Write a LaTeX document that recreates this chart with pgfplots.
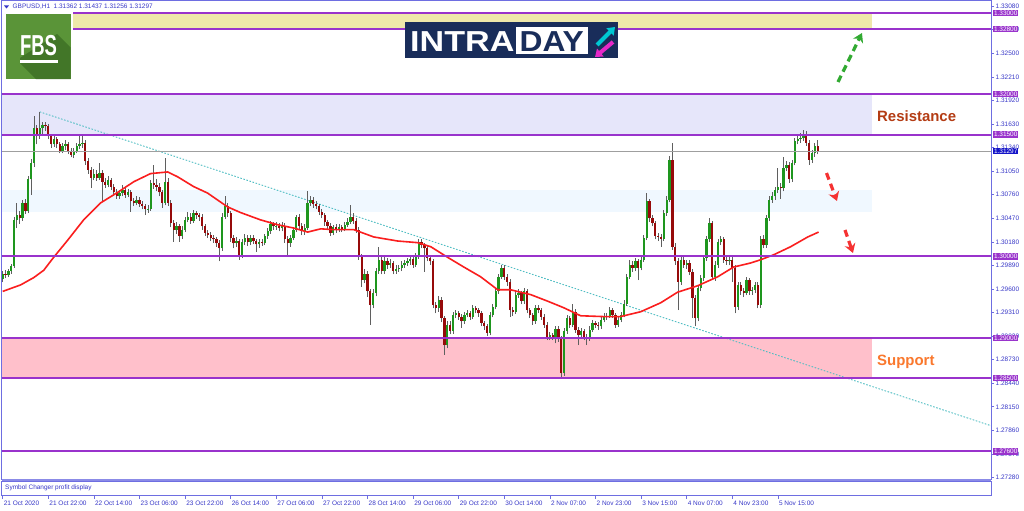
\documentclass[border=0pt]{standalone}
\usepackage{pgfplots}
\pgfplotsset{compat=1.18}
\usepackage{pgfplotstable}
\usepackage{fontspec}
\setmainfont{Liberation Sans}
\usetikzlibrary{arrows.meta}

\definecolor{mtblue}{RGB}{55,55,200}
\definecolor{frameblue}{RGB}{110,110,225}
\definecolor{lvl}{RGB}{153,51,204}
\definecolor{pxbox}{RGB}{20,20,200}
\definecolor{bull}{RGB}{30,150,30}
\definecolor{bear}{RGB}{150,10,10}
\definecolor{wick}{RGB}{95,95,95}
\definecolor{maline}{RGB}{250,30,30}
\definecolor{trend}{RGB}{80,190,195}
\definecolor{zyellow}{RGB}{238,232,170}
\definecolor{zlav}{RGB}{230,230,250}
\definecolor{zice}{RGB}{240,248,255}
\definecolor{zpink}{RGB}{255,192,203}
\definecolor{fbsgreen}{RGB}{90,148,56}
\definecolor{fbsdark}{RGB}{66,118,40}
\definecolor{navy}{RGB}{25,45,90}
\definecolor{icyan}{RGB}{0,200,210}
\definecolor{imag}{RGB}{230,40,200}
\definecolor{resist}{RGB}{180,60,20}
\definecolor{supp}{RGB}{250,120,45}
\definecolor{arrgreen}{RGB}{50,170,50}
\definecolor{arrred}{RGB}{245,50,50}

\newcommand\tf{\fontsize{6.5}{7}\selectfont}

% GBPUSD H1 candles, bar index from 21 Oct 2020
\pgfplotstableread{
i o h l c
0 1.2972 1.2982 1.2968 1.2979
1 1.2979 1.2983 1.2973 1.2977
2 1.2977 1.2985 1.2975 1.2982
3 1.2982 1.2991 1.2979 1.2988
4 1.2988 1.3049 1.2986 1.3045
5 1.3045 1.3066 1.3035 1.3051
6 1.3051 1.3056 1.3040 1.3047
7 1.3047 1.3070 1.3044 1.3066
8 1.3066 1.3071 1.3052 1.3056
9 1.3056 1.3099 1.3053 1.3095
10 1.3095 1.3120 1.3076 1.3115
11 1.3115 1.3173 1.3110 1.3158
12 1.3158 1.3162 1.3138 1.3148
13 1.3148 1.3178 1.3145 1.3158
14 1.3158 1.3166 1.3150 1.3162
15 1.3162 1.3166 1.3155 1.3160
16 1.3160 1.3163 1.3144 1.3148
17 1.3148 1.3151 1.3134 1.3138
18 1.3138 1.3150 1.3135 1.3144
19 1.3144 1.3147 1.3133 1.3138
20 1.3138 1.3141 1.3127 1.3130
21 1.3130 1.3140 1.3127 1.3136
22 1.3136 1.3143 1.3131 1.3138
23 1.3138 1.3141 1.3126 1.3130
24 1.3130 1.3133 1.3122 1.3125
25 1.3125 1.3134 1.3121 1.3130
26 1.3130 1.3140 1.3127 1.3136
27 1.3136 1.3151 1.3132 1.3138
28 1.3138 1.3151 1.3134 1.3140
29 1.3140 1.3143 1.3113 1.3117
30 1.3117 1.3121 1.3102 1.3107
31 1.3107 1.3110 1.3084 1.3097
32 1.3097 1.3108 1.3094 1.3102
33 1.3102 1.3106 1.3093 1.3097
34 1.3097 1.3115 1.3094 1.3103
35 1.3103 1.3106 1.3068 1.3092
36 1.3092 1.3097 1.3084 1.3088
37 1.3088 1.3099 1.3085 1.3094
38 1.3094 1.3097 1.3082 1.3086
39 1.3086 1.3089 1.3075 1.3079
40 1.3079 1.3083 1.3071 1.3075
41 1.3075 1.3082 1.3071 1.3078
42 1.3078 1.3088 1.3074 1.3082
43 1.3082 1.3085 1.3072 1.3076
44 1.3076 1.3083 1.3073 1.3079
45 1.3079 1.3082 1.3055 1.3068
46 1.3068 1.3072 1.3062 1.3066
47 1.3066 1.3074 1.3063 1.3070
48 1.3070 1.3073 1.3061 1.3065
49 1.3065 1.3068 1.3058 1.3062
50 1.3062 1.3065 1.3051 1.3058
51 1.3058 1.3063 1.3054 1.3059
52 1.3059 1.3094 1.3056 1.3090
53 1.3090 1.3113 1.3083 1.3088
54 1.3088 1.3095 1.3080 1.3086
55 1.3086 1.3090 1.3074 1.3079
56 1.3079 1.3082 1.3060 1.3066
57 1.3066 1.3121 1.3063 1.3092
58 1.3092 1.3096 1.3062 1.3066
59 1.3066 1.3069 1.3036 1.3041
60 1.3041 1.3045 1.3018 1.3033
61 1.3033 1.3042 1.3028 1.3037
62 1.3037 1.3040 1.3018 1.3025
63 1.3025 1.3037 1.3022 1.3033
64 1.3033 1.3049 1.3030 1.3045
65 1.3045 1.3055 1.3042 1.3049
66 1.3049 1.3053 1.3040 1.3044
67 1.3044 1.3057 1.3041 1.3053
68 1.3053 1.3056 1.3046 1.3051
69 1.3051 1.3054 1.3044 1.3049
70 1.3049 1.3052 1.3033 1.3037
71 1.3037 1.3040 1.3025 1.3029
72 1.3029 1.3033 1.3023 1.3027
73 1.3027 1.3030 1.3019 1.3023
74 1.3023 1.3027 1.3017 1.3021
75 1.3021 1.3024 1.3012 1.3016
76 1.3016 1.3020 1.2994 1.3010
77 1.3010 1.3053 1.3007 1.3049
78 1.3049 1.3075 1.3046 1.3062
79 1.3062 1.3066 1.3049 1.3053
80 1.3053 1.3056 1.3018 1.3023
81 1.3023 1.3027 1.3010 1.3016
82 1.3016 1.3024 1.3012 1.3019
83 1.3019 1.3022 1.2996 1.3001
84 1.3001 1.3022 1.2998 1.3018
85 1.3018 1.3028 1.3014 1.3023
86 1.3023 1.3027 1.3013 1.3018
87 1.3018 1.3027 1.3014 1.3023
88 1.3023 1.3026 1.3015 1.3019
89 1.3019 1.3022 1.3006 1.3015
90 1.3015 1.3021 1.3011 1.3018
91 1.3018 1.3022 1.3013 1.3017
92 1.3017 1.3028 1.3014 1.3025
93 1.3025 1.3035 1.3022 1.3031
94 1.3031 1.3044 1.3028 1.3040
95 1.3040 1.3043 1.3033 1.3037
96 1.3037 1.3042 1.3033 1.3038
97 1.3038 1.3041 1.3031 1.3035
98 1.3035 1.3042 1.3031 1.3038
99 1.3038 1.3041 1.3017 1.3021
100 1.3021 1.3025 1.3002 1.3016
101 1.3016 1.3027 1.3012 1.3023
102 1.3023 1.3036 1.3020 1.3033
103 1.3033 1.3051 1.3030 1.3049
104 1.3049 1.3052 1.3032 1.3037
105 1.3037 1.3041 1.3026 1.3031
106 1.3031 1.3040 1.3027 1.3035
107 1.3035 1.3080 1.3032 1.3066
108 1.3066 1.3075 1.3062 1.3070
109 1.3070 1.3073 1.3060 1.3064
110 1.3064 1.3068 1.3058 1.3062
111 1.3062 1.3065 1.3051 1.3055
112 1.3055 1.3058 1.3047 1.3051
113 1.3051 1.3054 1.3038 1.3042
114 1.3042 1.3045 1.3033 1.3038
115 1.3038 1.3041 1.3025 1.3029
116 1.3029 1.3039 1.3026 1.3036
117 1.3036 1.3040 1.3029 1.3033
118 1.3033 1.3040 1.3030 1.3036
119 1.3036 1.3039 1.3030 1.3034
120 1.3034 1.3043 1.3031 1.3039
121 1.3039 1.3047 1.3036 1.3043
122 1.3043 1.3063 1.3040 1.3049
123 1.3049 1.3053 1.3040 1.3044
124 1.3044 1.3047 1.3029 1.3033
125 1.3033 1.3036 1.2996 1.3000
126 1.3000 1.3003 1.2963 1.2971
127 1.2971 1.2985 1.2967 1.2979
128 1.2979 1.2982 1.2950 1.2957
129 1.2957 1.2960 1.2916 1.2940
130 1.2940 1.2960 1.2936 1.2955
131 1.2955 1.2986 1.2951 1.2982
132 1.2982 1.3012 1.2979 1.2996
133 1.2996 1.2999 1.2978 1.2982
134 1.2982 1.2999 1.2979 1.2995
135 1.2995 1.2998 1.2985 1.2990
136 1.2990 1.2997 1.2986 1.2992
137 1.2992 1.2995 1.2978 1.2982
138 1.2982 1.2989 1.2979 1.2985
139 1.2985 1.2990 1.2981 1.2986
140 1.2986 1.2994 1.2982 1.2990
141 1.2990 1.2996 1.2986 1.2992
142 1.2992 1.2998 1.2988 1.2994
143 1.2994 1.3001 1.2990 1.2997
144 1.2997 1.3000 1.2986 1.2990
145 1.2990 1.3004 1.2987 1.3000
146 1.3000 1.3022 1.2997 1.3018
147 1.3018 1.3021 1.3010 1.3014
148 1.3014 1.3017 1.2981 1.3010
149 1.3010 1.3013 1.2994 1.2998
150 1.2998 1.3002 1.2990 1.2994
151 1.2994 1.2997 1.2936 1.2940
152 1.2940 1.2944 1.2930 1.2936
153 1.2936 1.2951 1.2932 1.2947
154 1.2947 1.2950 1.2919 1.2924
155 1.2924 1.2927 1.2879 1.2891
156 1.2891 1.2920 1.2887 1.2916
157 1.2916 1.2921 1.2904 1.2908
158 1.2908 1.2932 1.2905 1.2928
159 1.2928 1.2934 1.2924 1.2930
160 1.2930 1.2933 1.2922 1.2926
161 1.2926 1.2929 1.2912 1.2920
162 1.2920 1.2932 1.2917 1.2928
163 1.2928 1.2934 1.2925 1.2930
164 1.2930 1.2933 1.2922 1.2926
165 1.2926 1.2940 1.2923 1.2936
166 1.2936 1.2939 1.2930 1.2934
167 1.2934 1.2937 1.2926 1.2930
168 1.2930 1.2933 1.2914 1.2918
169 1.2918 1.2921 1.2910 1.2914
170 1.2914 1.2917 1.2902 1.2906
171 1.2906 1.2932 1.2903 1.2928
172 1.2928 1.2942 1.2925 1.2938
173 1.2938 1.2961 1.2935 1.2957
174 1.2957 1.2979 1.2954 1.2975
175 1.2975 1.2990 1.2972 1.2986
176 1.2986 1.2989 1.2971 1.2975
177 1.2975 1.2979 1.2964 1.2969
178 1.2969 1.2972 1.2926 1.2934
179 1.2934 1.2938 1.2927 1.2932
180 1.2932 1.2957 1.2929 1.2953
181 1.2953 1.2960 1.2949 1.2955
182 1.2955 1.2958 1.2941 1.2945
183 1.2945 1.2961 1.2942 1.2957
184 1.2957 1.2960 1.2930 1.2934
185 1.2934 1.2937 1.2924 1.2928
186 1.2928 1.2931 1.2916 1.2920
187 1.2920 1.2940 1.2917 1.2936
188 1.2936 1.2940 1.2930 1.2934
189 1.2934 1.2937 1.2922 1.2926
190 1.2926 1.2929 1.2912 1.2916
191 1.2916 1.2919 1.2897 1.2901
192 1.2901 1.2907 1.2897 1.2903
193 1.2903 1.2906 1.2897 1.2901
194 1.2901 1.2915 1.2893 1.2911
195 1.2911 1.2914 1.2895 1.2899
196 1.2899 1.2902 1.2852 1.2856
197 1.2856 1.2912 1.2853 1.2908
198 1.2908 1.2928 1.2905 1.2924
199 1.2924 1.2927 1.2912 1.2916
200 1.2916 1.2942 1.2913 1.2932
201 1.2932 1.2935 1.2906 1.2910
202 1.2910 1.2913 1.2891 1.2903
203 1.2903 1.2912 1.2899 1.2908
204 1.2908 1.2911 1.2897 1.2901
205 1.2901 1.2905 1.2891 1.2899
206 1.2899 1.2914 1.2896 1.2910
207 1.2910 1.2922 1.2907 1.2918
208 1.2918 1.2921 1.2912 1.2916
209 1.2916 1.2919 1.2910 1.2914
210 1.2914 1.2926 1.2911 1.2922
211 1.2922 1.2930 1.2919 1.2926
212 1.2926 1.2931 1.2922 1.2927
213 1.2927 1.2938 1.2924 1.2934
214 1.2934 1.2937 1.2924 1.2928
215 1.2928 1.2931 1.2912 1.2916
216 1.2916 1.2926 1.2913 1.2922
217 1.2922 1.2932 1.2919 1.2928
218 1.2928 1.2946 1.2925 1.2942
219 1.2942 1.2979 1.2939 1.2975
220 1.2975 1.2996 1.2972 1.2990
221 1.2990 1.2994 1.2981 1.2986
222 1.2986 1.2998 1.2982 1.2994
223 1.2994 1.2997 1.2971 1.2986
224 1.2986 1.3000 1.2983 1.2996
225 1.2996 1.3027 1.2993 1.3023
226 1.3023 1.3078 1.3020 1.3068
227 1.3068 1.3071 1.3043 1.3047
228 1.3047 1.3051 1.3037 1.3041
229 1.3041 1.3044 1.3021 1.3025
230 1.3025 1.3029 1.3019 1.3024
231 1.3024 1.3028 1.3012 1.3022
232 1.3022 1.3057 1.3019 1.3053
233 1.3053 1.3074 1.3050 1.3070
234 1.3070 1.3124 1.3067 1.3119
235 1.3119 1.3140 1.3008 1.3012
236 1.3012 1.3016 1.2990 1.2994
237 1.2994 1.2998 1.2934 1.2969
238 1.2969 1.3000 1.2965 1.2996
239 1.2996 1.3000 1.2986 1.2990
240 1.2990 1.2996 1.2985 1.2992
241 1.2992 1.2996 1.2977 1.2981
242 1.2981 1.2984 1.2924 1.2949
243 1.2949 1.2952 1.2914 1.2924
244 1.2924 1.2965 1.2920 1.2961
245 1.2961 1.2977 1.2957 1.2973
246 1.2973 1.3002 1.2970 1.2998
247 1.2998 1.3025 1.2995 1.3021
248 1.3021 1.3047 1.3018 1.3041
249 1.3041 1.3044 1.2971 1.2975
250 1.2975 1.2994 1.2970 1.2990
251 1.2990 1.3022 1.2986 1.3018
252 1.3018 1.3025 1.3014 1.3021
253 1.3021 1.3024 1.2992 1.2996
254 1.2996 1.3000 1.2990 1.2994
255 1.2994 1.3001 1.2989 1.2996
256 1.2996 1.3000 1.2969 1.2986
257 1.2986 1.2990 1.2930 1.2938
258 1.2938 1.2969 1.2934 1.2965
259 1.2965 1.2968 1.2953 1.2957
260 1.2957 1.2961 1.2950 1.2955
261 1.2955 1.2975 1.2952 1.2971
262 1.2971 1.2974 1.2953 1.2957
263 1.2957 1.2963 1.2953 1.2959
264 1.2959 1.2969 1.2955 1.2965
265 1.2965 1.2968 1.2936 1.2940
266 1.2940 1.3025 1.2937 1.3021
267 1.3021 1.3027 1.3010 1.3014
268 1.3014 1.3051 1.3011 1.3047
269 1.3047 1.3074 1.3044 1.3070
270 1.3070 1.3079 1.3066 1.3074
271 1.3074 1.3086 1.3070 1.3082
272 1.3082 1.3109 1.3078 1.3086
273 1.3086 1.3090 1.3071 1.3084
274 1.3084 1.3123 1.3080 1.3109
275 1.3109 1.3118 1.3105 1.3113
276 1.3113 1.3116 1.3091 1.3095
277 1.3095 1.3119 1.3092 1.3115
278 1.3115 1.3146 1.3112 1.3142
279 1.3142 1.3149 1.3138 1.3144
280 1.3144 1.3152 1.3140 1.3146
281 1.3146 1.3156 1.3142 1.3148
282 1.3148 1.3155 1.3136 1.3140
283 1.3140 1.3143 1.3113 1.3119
284 1.3119 1.3131 1.3115 1.3127
285 1.3127 1.3140 1.3123 1.31362
286 1.31362 1.31437 1.31256 1.31297
}\candles

% moving average
\pgfplotstableread{
i ma
0 1.2957
6.3 1.2965
10.9 1.2974
14.4 1.2983
17.9 1.2999
22.8 1.3020
28.4 1.3045
34.4 1.3066
40.4 1.3079
46 1.3092
51.9 1.3102
57.9 1.3104
61.4 1.3098
67 1.3086
71.9 1.3078
78.9 1.3061
83.5 1.3054
90.5 1.3045
96.5 1.3039
102.1 1.3035
107 1.3030
111.6 1.3034
116.1 1.3033
123.2 1.3033
130.2 1.3024
138.6 1.3019
145.6 1.3017
150.2 1.3012
156.1 1.2999
161.8 1.2987
167.7 1.2975
173.7 1.2959
178.2 1.2959
185.3 1.2953
191.2 1.2945
196.8 1.2937
202.8 1.2927
210.9 1.2926
216.8 1.2926
223.9 1.2932
230.9 1.2943
236.8 1.2956
243.9 1.2964
250.9 1.2975
256.5 1.2987
262.5 1.2992
266 1.2996
270.5 1.3002
276.5 1.3012
282.5 1.3024
286.3 1.3030
}\matable

\begin{document}
\begin{tikzpicture}
\path[use as bounding box] (0,0) rectangle (1024bp,-511bp);
\fill[white] (0,0) rectangle (1024bp,-511bp);

\begin{axis}[
  name=main, scale only axis, width=989.5bp, height=478bp,
  anchor=north west, at={(1.5bp,-1bp)},
  xmin=-0.42, xmax=346.8, ymin=1.27261, ymax=1.33144,
  xtick=\empty,
  ytick pos=right, yticklabel pos=right,
  ytick={1.2728,1.2757,1.2786,1.2815,1.2844,1.2873,1.2902,1.2931,1.2960,1.2989,1.3018,1.3047,1.3076,1.3105,1.3134,1.3163,1.3192,1.3221,1.3250,1.3279,1.3308},
  yticklabels={1.27280,1.27570,1.27860,1.28150,1.28440,1.28730,1.29020,1.29310,1.29600,1.29890,1.30180,1.30470,1.30760,1.31050,1.31340,1.31630,1.31920,1.32210,1.32500,1.32790,1.33080},
  tick align=outside, major tick length=3bp,
  tick style={draw=frameblue, line width=0.6bp},
  axis line style={draw=frameblue, line width=1bp},
  yticklabel style={font=\tf, text=mtblue, anchor=west, inner sep=0pt, xshift=1.5bp},
]
% zones
\addplot[draw=none, fill=zyellow] coordinates {(24.7,1.328) (305,1.328) (305,1.330) (24.7,1.330)};
\addplot[draw=none, fill=zlav] coordinates {(-0.42,1.315) (305,1.315) (305,1.320) (-0.42,1.320)};
\addplot[draw=none, fill=zice] coordinates {(-0.42,1.3055) (305,1.3055) (305,1.3082) (-0.42,1.3082)};
\addplot[draw=none, fill=zpink] coordinates {(-0.42,1.285) (305,1.285) (305,1.290) (-0.42,1.290)};
% trend line
\addplot[trend, line width=0.9bp, dash pattern=on 1.6bp off 1.6bp] coordinates {(13,1.3178) (346.8,1.27917)};
% wicks
\addplot[draw=none, mark=none, error bars/.cd, y dir=plus, y explicit,
  error bar style={draw=wick, line width=0.9bp}, error mark=none]
  table[x=i, y=l, y error plus expr=\thisrow{h}-\thisrow{l}] \candles;
% bull bodies
\addplot[draw=none, mark=none, restrict expr to domain={\thisrow{c}-\thisrow{o}}{0:1},
  error bars/.cd, y dir=plus, y explicit,
  error bar style={draw=bull, line width=2.3bp}, error mark=none]
  table[x=i, y=o, y error plus expr=\thisrow{c}-\thisrow{o}] \candles;
% bear bodies
\addplot[draw=none, mark=none, restrict expr to domain={\thisrow{c}-\thisrow{o}}{-1:0},
  error bars/.cd, y dir=plus, y explicit,
  error bar style={draw=bear, line width=2.3bp}, error mark=none]
  table[x=i, y=c, y error plus expr=\thisrow{o}-\thisrow{c}] \candles;
% moving average
\addplot[maline, line width=1.6bp] table[x=i, y=ma] \matable;
% level lines
\addplot[lvl, line width=2bp] coordinates {(24.7,1.330) (346.8,1.330)};
\addplot[lvl, line width=2bp] coordinates {(24.7,1.328) (346.8,1.328)};
\addplot[lvl, line width=2bp] coordinates {(-0.42,1.320) (346.8,1.320)};
\addplot[lvl, line width=2bp] coordinates {(-0.42,1.315) (346.8,1.315)};
\addplot[lvl, line width=2bp] coordinates {(-0.42,1.300) (346.8,1.300)};
\addplot[lvl, line width=2bp] coordinates {(-0.42,1.290) (346.8,1.290)};
\addplot[lvl, line width=2bp] coordinates {(-0.42,1.285) (346.8,1.285)};
\addplot[lvl, line width=2bp] coordinates {(-0.42,1.276) (346.8,1.276)};
\addplot[gray!75, line width=0.8bp] coordinates {(-0.42,1.31297) (346.8,1.31297)};
\coordinate (r1) at (axis cs:346.8,1.330);
\coordinate (r2) at (axis cs:346.8,1.328);
\coordinate (r3) at (axis cs:346.8,1.320);
\coordinate (r4) at (axis cs:346.8,1.315);
\coordinate (r5) at (axis cs:346.8,1.31297);
\coordinate (r6) at (axis cs:346.8,1.300);
\coordinate (r7) at (axis cs:346.8,1.290);
\coordinate (r8) at (axis cs:346.8,1.285);
\coordinate (r9) at (axis cs:346.8,1.276);
\end{axis}

% separator and sub window with the time scale
\fill[frameblue!80] (1.5bp,-478.5bp) rectangle (991bp,-481bp);
\begin{axis}[
  scale only axis, width=989.5bp, height=14bp,
  anchor=north west, at={(1.5bp,-481bp)},
  xmin=-0.42, xmax=346.8, ymin=0, ymax=1, ytick=\empty,
  xtick={0,16,...,272},
  xticklabels={{21 Oct 2020},{21 Oct 22:00},{22 Oct 14:00},{23 Oct 06:00},{23 Oct 22:00},{26 Oct 14:00},{27 Oct 06:00},{27 Oct 22:00},{28 Oct 14:00},{29 Oct 06:00},{29 Oct 22:00},{30 Oct 14:00},{2 Nov 07:00},{2 Nov 23:00},{3 Nov 15:00},{4 Nov 07:00},{4 Nov 23:00},{5 Nov 15:00}},
  xtick pos=bottom, tick align=outside, major tick length=3.5bp,
  tick style={draw=frameblue, line width=0.6bp},
  axis line style={draw=frameblue, line width=1bp},
  xticklabel style={font=\tf, text=mtblue, anchor=north west, inner sep=0pt, xshift=1bp, yshift=-2.5bp},
]
\end{axis}

% price boxes on the right scale
\tikzset{lb/.style={fill=lvl, text=white, font=\tf, inner xsep=1bp, inner ysep=0.8bp, text height=4.7bp, text depth=0pt, anchor=west, xshift=1.8bp}}
\node[lb] at (r1) {1.33000};
\node[lb] at (r2) {1.32800};
\node[lb] at (r3) {1.32000};
\node[lb] at (r4) {1.31500};
\node[lb, fill=pxbox] at (r5) {1.31297};
\node[lb] at (r6) {1.30000};
\node[lb] at (r7) {1.29000};
\node[lb] at (r8) {1.28500};
\node[lb] at (r9) {1.27600};

\begin{scope}[x=1bp, y=-1bp]
% title line
\fill[mtblue] (4,5.5) -- (9,5.5) -- (6.5,8.5) -- cycle;
\node[font=\tf, text=mtblue, anchor=west, inner sep=0pt] at (12.5,7) {GBPUSD,H1\ \ 1.31362 1.31437 1.31256 1.31297};
\node[font=\tf, text=mtblue, anchor=west, inner sep=0pt] at (5,488) {Symbol Changer profit display};
% FBS logo
\fill[fbsgreen] (6,14) rectangle (70.5,79);
\fill[fbsdark] (20,58) -- (57,34) -- (70.5,47.5) -- (70.5,79) -- (36,79) -- (20,63) -- cycle;
\node[font=\fontsize{29}{29}\selectfont\bfseries, text=white, xscale=0.64, inner sep=0pt, anchor=base] at (38.5,55) {FBS};
\fill[white] (20,60) rectangle (58,63);
% INTRADAY logo
\fill[navy] (405,22) rectangle (618,58.3);
\fill[white] (516,26.7) rectangle (588,54.3);
\node[font=\fontsize{29}{29}\selectfont\bfseries, text=white, xscale=1.18, inner sep=0pt, anchor=base west] at (410,51) {INTRA};
\node[font=\fontsize{29}{29}\selectfont\bfseries, text=navy, xscale=1.1, inner sep=0pt, anchor=base west] at (519.5,51) {DAY};
\draw[line width=4bp, icyan, -{Triangle[length=7bp, width=10bp]}] (597,45) -- (615,27);
\draw[line width=4bp, imag, -{Triangle[length=7bp, width=10bp]}] (613,42) -- (595,57);
% zone captions
\node[font=\fontsize{15}{15}\selectfont\bfseries, text=resist, anchor=base west, inner sep=0pt] at (877,121) {Resistance};
\node[font=\fontsize{15}{15}\selectfont\bfseries, text=supp, anchor=base west, inner sep=0pt] at (877,365) {Support};
% scenario arrows
\draw[arrgreen, line width=3.2bp, dash pattern=on 7bp off 4.5bp, -{Stealth[length=9bp, width=11bp]}] (838,82) -- (862,33);
\draw[arrred, line width=3.2bp, dash pattern=on 7bp off 4.5bp, -{Stealth[length=9bp, width=11bp]}] (826.5,173) -- (837,201);
\draw[arrred, line width=3.2bp, dash pattern=on 7bp off 4.5bp, -{Stealth[length=9bp, width=11bp]}] (845,230) -- (853,253);
\end{scope}
\end{tikzpicture}
\end{document}
